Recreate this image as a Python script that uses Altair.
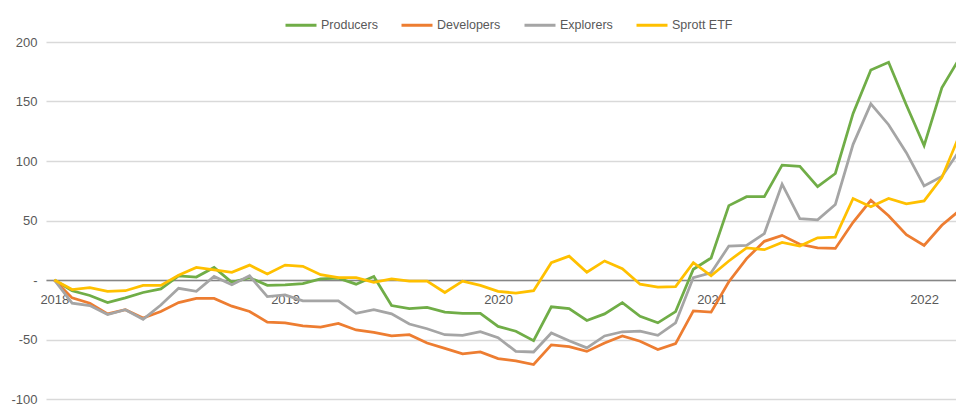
import altair as alt
import pandas as pd

series_names = ["Producers", "Developers", "Explorers", "Sprott ETF"]
series_colors = ["#70AD47", "#ED7D31", "#A5A5A5", "#FFC000"]

producers = [0, -9, -13, -19, -15, -10.5, -7.5, 3.5, 2.5, 10.5,
             -2, 2, -4.5, -4, -3, 1, 1.5, -3.5, 3, -21.5,
             -24, -23, -27, -28, -28, -39, -43, -51, -22.5, -24,
             -34, -28.5, -19, -30.5, -36, -26.5, 9, 18.5, 62.5, 70,
             70, 96.5, 95.5, 78.5, 89.5, 140, 176.5, 183, 147, 113,
             161.5, 186.5]
developers = [0, -15, -19.5, -28.5, -25, -32, -26.5, -19, -15.5, -15.5,
              -22, -26.5, -35.5, -36, -38.5, -39.5, -36.5, -42, -44, -47,
              -46, -53, -57.5, -62, -60.5, -66, -68, -71, -54.5, -56,
              -60, -53, -47, -51.5, -58.5, -53.5, -26, -27, -1.5, 18,
              32.5, 37.5, 30, 27, 26.5, 48.5, 67, 54, 38, 29,
              46, 58.5]
explorers = [0, -19.5, -21.5, -29, -25, -33, -21, -7, -9.5, 3,
             -4, 3.5, -14, -12.5, -17.5, -17.5, -17.5, -28, -25, -28.5,
             -37, -41, -46, -46.5, -43.5, -48.5, -60, -60.5, -44.5, -51,
             -57, -47, -43.5, -43, -46.5, -36, 2, 6, 28.5, 29,
             39, 80.5, 51.5, 50.5, 63.5, 114, 148, 130.5, 107, 79,
             87, 109]
sprott = [0, -8, -6.5, -9.5, -9, -4.5, -4.5, 4, 10.5, 8.5,
          6.5, 12.5, 5, 12.5, 11.5, 4.5, 2, 2, -2, 1,
          -1, -1, -10.5, -1, -4.5, -9.5, -11, -9, 14.5, 20,
          6.5, 16, 9.5, -3.5, -6, -5.5, 14.5, 3.5, 16, 27,
          25.5, 31.5, 28.5, 35.5, 36, 68.5, 61.5, 68.5, 64, 66.5,
          86, 122]

year_labels = ["2018", "2019", "2020", "2021", "2022"]
year_label_index = [0, 13, 25, 37, 49]
y_ticks = [-100, -50, 0, 50, 100, 150, 200]

rows = []
for name, vals in zip(series_names, [producers, developers, explorers, sprott]):
    for i, v in enumerate(vals):
        rows.append({"i": i, "series": name, "value": v})
df = pd.DataFrame(rows)

x_label_expr = " : ".join(
    f"datum.value == {idx} ? '{lab}'" for idx, lab in zip(year_label_index, year_labels)
) + " : ''"

step = 17.75
W = 910
x_lo = -0.47
x_hi = x_lo + W / step
H = 357
PAD_L, PAD_T, PAD_B = 38, 34, 8
zero_offset = -round(H * 100 / 300)

FONT = "Liberation Sans"
TXT = "#595959"

chart = alt.Chart(df).mark_line(strokeWidth=2.75).encode(
    x=alt.X("i:Q",
            scale=alt.Scale(domain=[x_lo, x_hi], nice=False, zero=False),
            axis=alt.Axis(values=year_label_index, labelExpr=x_label_expr,
                          title=None, grid=False, ticks=False,
                          domain=True, domainColor="#868686", domainWidth=1.5,
                          offset=zero_offset, labelPadding=13, labelFontSize=13,
                          labelColor=TXT, labelFont=FONT)),
    y=alt.Y("value:Q",
            scale=alt.Scale(domain=[-100, 200], nice=False, zero=False),
            axis=alt.Axis(values=y_ticks,
                          labelExpr="datum.value == 0 ? '-\u2007' : '' + datum.value",
                          title=None, grid=True, gridColor="#d9d9d9", gridWidth=1.5,
                          domain=False, ticks=False, labelPadding=9,
                          labelFontSize=13, labelColor=TXT, labelFont=FONT)),
    color=alt.Color("series:N",
                    scale=alt.Scale(domain=series_names, range=series_colors),
                    sort=series_names,
                    legend=alt.Legend(title=None, orient="none", direction="horizontal",
                                      legendX=238, legendY=-PAD_T, padding=0,
                                      symbolType="stroke", symbolSize=961,
                                      symbolStrokeWidth=3, labelFontSize=12.5,
                                      labelColor=TXT, labelFont=FONT,
                                      labelOffset=3, columnPadding=17)),
).properties(
    width=W, height=H, background="white",
    autosize=alt.AutoSizeParams(type="none"),
    padding={"left": PAD_L, "top": PAD_T, "right": 0, "bottom": PAD_B},
).configure_view(stroke=None)

chart.save("out.html", embed_options={"renderer": "svg", "actions": False})
